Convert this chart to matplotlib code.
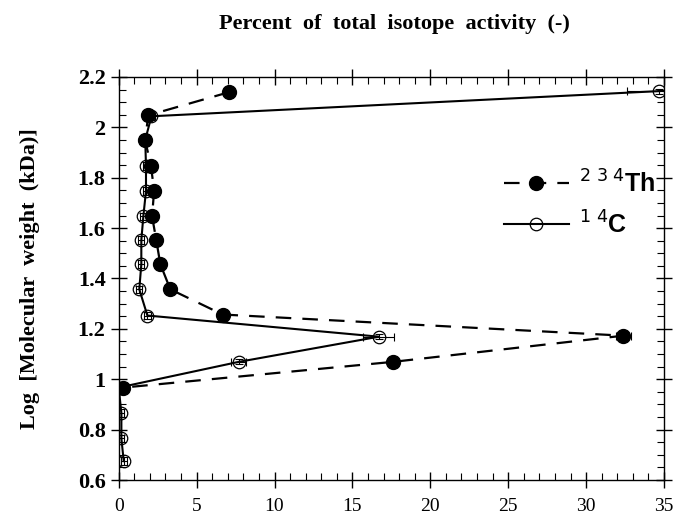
import matplotlib
matplotlib.use('Agg')
import matplotlib.pyplot as plt
from matplotlib.ticker import MultipleLocator

# 234Th (filled) - percent of activity vs log MW
th_x = [7.1, 1.9, 1.69, 2.07, 2.27, 2.14, 2.41, 2.67, 3.31, 6.67, 32.4, 17.6, 0.3]
th_y = [2.14, 2.048, 1.95, 1.847, 1.748, 1.647, 1.552, 1.457, 1.357, 1.257, 1.173, 1.069, 0.967]
th_xerr = [0, 0, 0, 0, 0, 0, 0, 0, 0, 0, 0.5, 0, 0]

# 14C (open)
c_x = [34.7, 2.1, 1.7, 1.75, 1.75, 1.58, 1.45, 1.45, 1.32, 1.84, 16.7, 7.7, 0.0, 0.17, 0.17, 0.32]
c_y = [2.144, 2.044, 1.95, 1.847, 1.748, 1.647, 1.552, 1.457, 1.357, 1.253, 1.169, 1.069, 0.967, 0.865, 0.765, 0.675]
c_xerr = [2.1, 0.2, 0.2, 0.2, 0.2, 0.2, 0.2, 0.2, 0.2, 0.2, 1.0, 0.5, 0.2, 0.2, 0.2, 0.2]
c_yerr = [0.01, 0.015, 0.015, 0.015, 0.015, 0.015, 0.015, 0.015, 0.015, 0.015, 0.01, 0.01, 0.015, 0.015, 0.015, 0.015]

fig = plt.figure(figsize=(6.75, 5.23), dpi=100)
ax = fig.add_axes([0.1759, 0.0822, 0.8078, 0.7706])

ax.errorbar(c_x, c_y, xerr=c_xerr, yerr=c_yerr, fmt='none', ecolor='black',
            elinewidth=0.8, capsize=3, capthick=0.8, zorder=2)
ax.plot(c_x, c_y, '-', color='black', lw=1.5, marker='o', ms=9,
        mfc='none', mec='black', mew=0.9, zorder=3, label=r'$^{1\ 4}$C')
ax.errorbar(th_x, th_y, xerr=th_xerr, fmt='none', ecolor='black',
            elinewidth=0.8, capsize=3, capthick=0.8, zorder=2)
ax.plot(th_x, th_y, '--', color='black', lw=1.6, dashes=(7, 5), marker='o', ms=10,
        mfc='black', mec='black', zorder=4, label=r'$^{2\ 3\ 4}$Th')

ax.set_xlim(0, 35)
ax.set_ylim(0.6, 2.2)
ax.xaxis.set_major_locator(MultipleLocator(5))
ax.xaxis.set_minor_locator(MultipleLocator(1))
ax.yaxis.set_major_locator(MultipleLocator(0.2))
ax.yaxis.set_minor_locator(MultipleLocator(0.05))
ax.tick_params(which='major', direction='inout', length=12, width=1,
               top=True, right=True)
ax.tick_params(which='minor', direction='in', length=5, width=0.8,
               top=True, right=True)
ax.tick_params(axis='x', pad=7)

ax.set_xticks([0, 5, 10, 15, 20, 25, 30, 35])
ax.set_xticklabels(['0', '5', '10', '15', '20', '25', '30', '35'],
                   family='Liberation Serif', fontsize=14)
yt = [0.6, 0.8, 1.0, 1.2, 1.4, 1.6, 1.8, 2.0, 2.2]
ax.set_yticks(yt)
ax.set_yticklabels(['0.6', '0.8', '1', '1.2', '1.4', '1.6', '1.8', '2', '2.2'],
                   family='Liberation Serif', fontweight='bold', fontsize=16)

for s in ax.spines.values():
    s.set_linewidth(1)

fig.text(0.585, 0.955, 'Percent  of  total  isotope  activity  (-)',
         ha='center', va='center', family='Liberation Serif',
         fontweight='bold', fontsize=16)
ax.set_ylabel('Log  [Molecular  weight  (kDa)]', family='Liberation Serif',
              fontweight='bold', fontsize=16, labelpad=27)

handles, labels = ax.get_legend_handles_labels()
leg = ax.legend(handles[::-1], labels[::-1], loc='upper left',
                bbox_to_anchor=(0.665, 0.825), frameon=False, handlelength=2.6,
                labelspacing=0.55, handletextpad=0.4,
                prop={'family': 'Liberation Sans', 'weight': 'bold', 'size': 18})

fig.savefig('out.png', dpi=100)
